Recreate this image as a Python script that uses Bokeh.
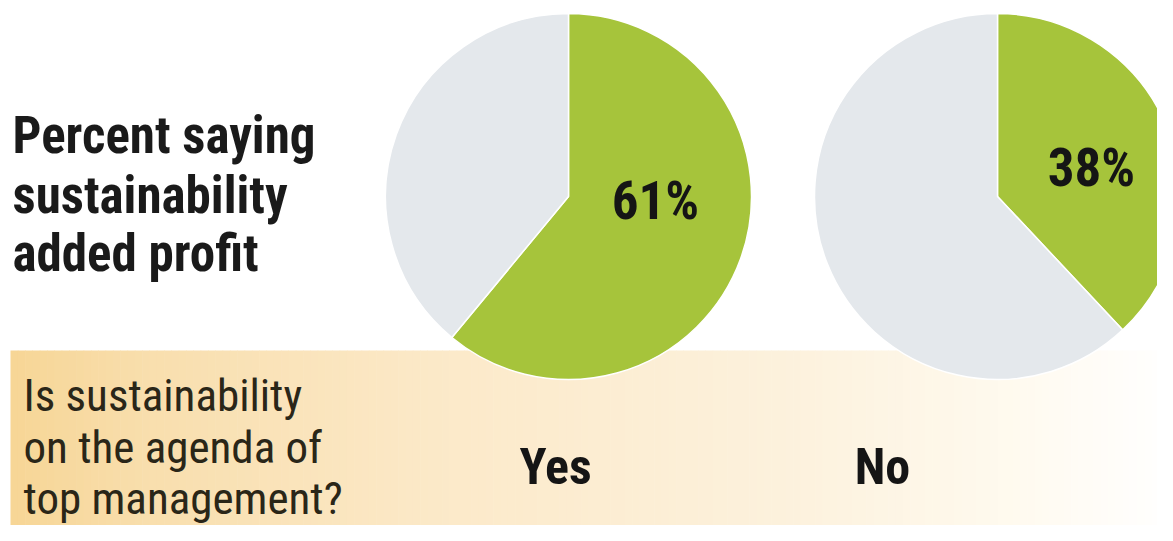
import numpy as np
from bokeh.plotting import figure
from bokeh.models import Range1d
from bokeh.core.properties import value
from bokeh.embed import file_html
from bokeh.resources import INLINE

# ---- data ----
groups = ["Yes", "No"]
profit_pct = [61, 38]
pct_labels = ["61%", "38%"]
title_lines = ["Percent saying", "sustainability", "added profit"]
question_lines = ["Is sustainability", "on the agenda of", "top management?"]

GREEN = "#A6C43B"
GRAY = "#E4E8EC"
FONT = "'Roboto Condensed', 'DejaVu Sans Condensed', Roboto, sans-serif"

W, H = 1157, 525
p = figure(width=W, height=H, output_backend="svg", toolbar_location=None,
           x_range=Range1d(0, W), y_range=Range1d(0, H),
           x_axis_location=None, y_axis_location=None, min_border=0,
           background_fill_color="white", border_fill_color="white")
p.outline_line_color = None
p.grid.visible = False

def sy(y):
    return H - y

# ---- gradient band (decoration) ----
stops_x = [10, 150, 450, 800, 1000, 1173]
stops_c = [(247, 214, 150), (249, 223, 174), (252, 234, 202), (253, 242, 222), (255, 250, 238), (255, 255, 255)]
xs = np.linspace(10, 1173, 160)
lefts = xs[:-1]
rights = xs[1:]
mids = (lefts + rights) / 2
cols = []
for m in mids:
    r = np.interp(m, stops_x, [c[0] for c in stops_c])
    g = np.interp(m, stops_x, [c[1] for c in stops_c])
    b = np.interp(m, stops_x, [c[2] for c in stops_c])
    cols.append("#%02x%02x%02x" % (int(r), int(g), int(b)))
p.quad(left=lefts, right=rights + 0.6, bottom=sy(541), top=sy(350), fill_color=cols, line_color=None)

# ---- pies ----
centers_x = [568, 997]
center_y = sy(196)
radius = 183
for cx, pct in zip(centers_x, profit_pct):
    frac = pct / 100.0
    a_end = np.pi / 2
    a_start = np.pi / 2 - 2 * np.pi * frac
    p.wedge(x=cx, y=center_y, radius=radius, radius_units="screen",
            start_angle=a_start, end_angle=a_end, fill_color=GREEN,
            line_color="white", line_width=1.5)
    p.wedge(x=cx, y=center_y, radius=radius, radius_units="screen",
            start_angle=a_end, end_angle=a_start + 2 * np.pi, fill_color=GRAY,
            line_color="white", line_width=1.5)

# percent labels
p.text(x=[655, 1091], y=[sy(200), sy(167)], text=pct_labels,
       text_font=value(FONT), text_font_style="bold", text_font_size="53px",
       text_color="#151515", text_align="center", text_baseline="middle")

# group labels
p.text(x=[555, 882], y=[sy(466), sy(466)], text=groups,
       text_font=value(FONT), text_font_style="bold", text_font_size="50px",
       text_color="#151515", text_align="center", text_baseline="alphabetic")

# left title
p.text(x=[12] * 3, y=[sy(135), sy(195), sy(253)], text=title_lines,
       text_font=value(FONT), text_font_style="bold", text_font_size="51px",
       text_color="#1a1a1a", text_align="left", text_baseline="alphabetic")

# question
p.text(x=[23] * 3, y=[sy(395), sy(447), sy(498)], text=question_lines,
       text_font=value(FONT), text_font_style="normal", text_font_size="45px",
       text_color="#2a2618", text_align="left", text_baseline="alphabetic")

open("out.html", "w").write(file_html(p, INLINE))
